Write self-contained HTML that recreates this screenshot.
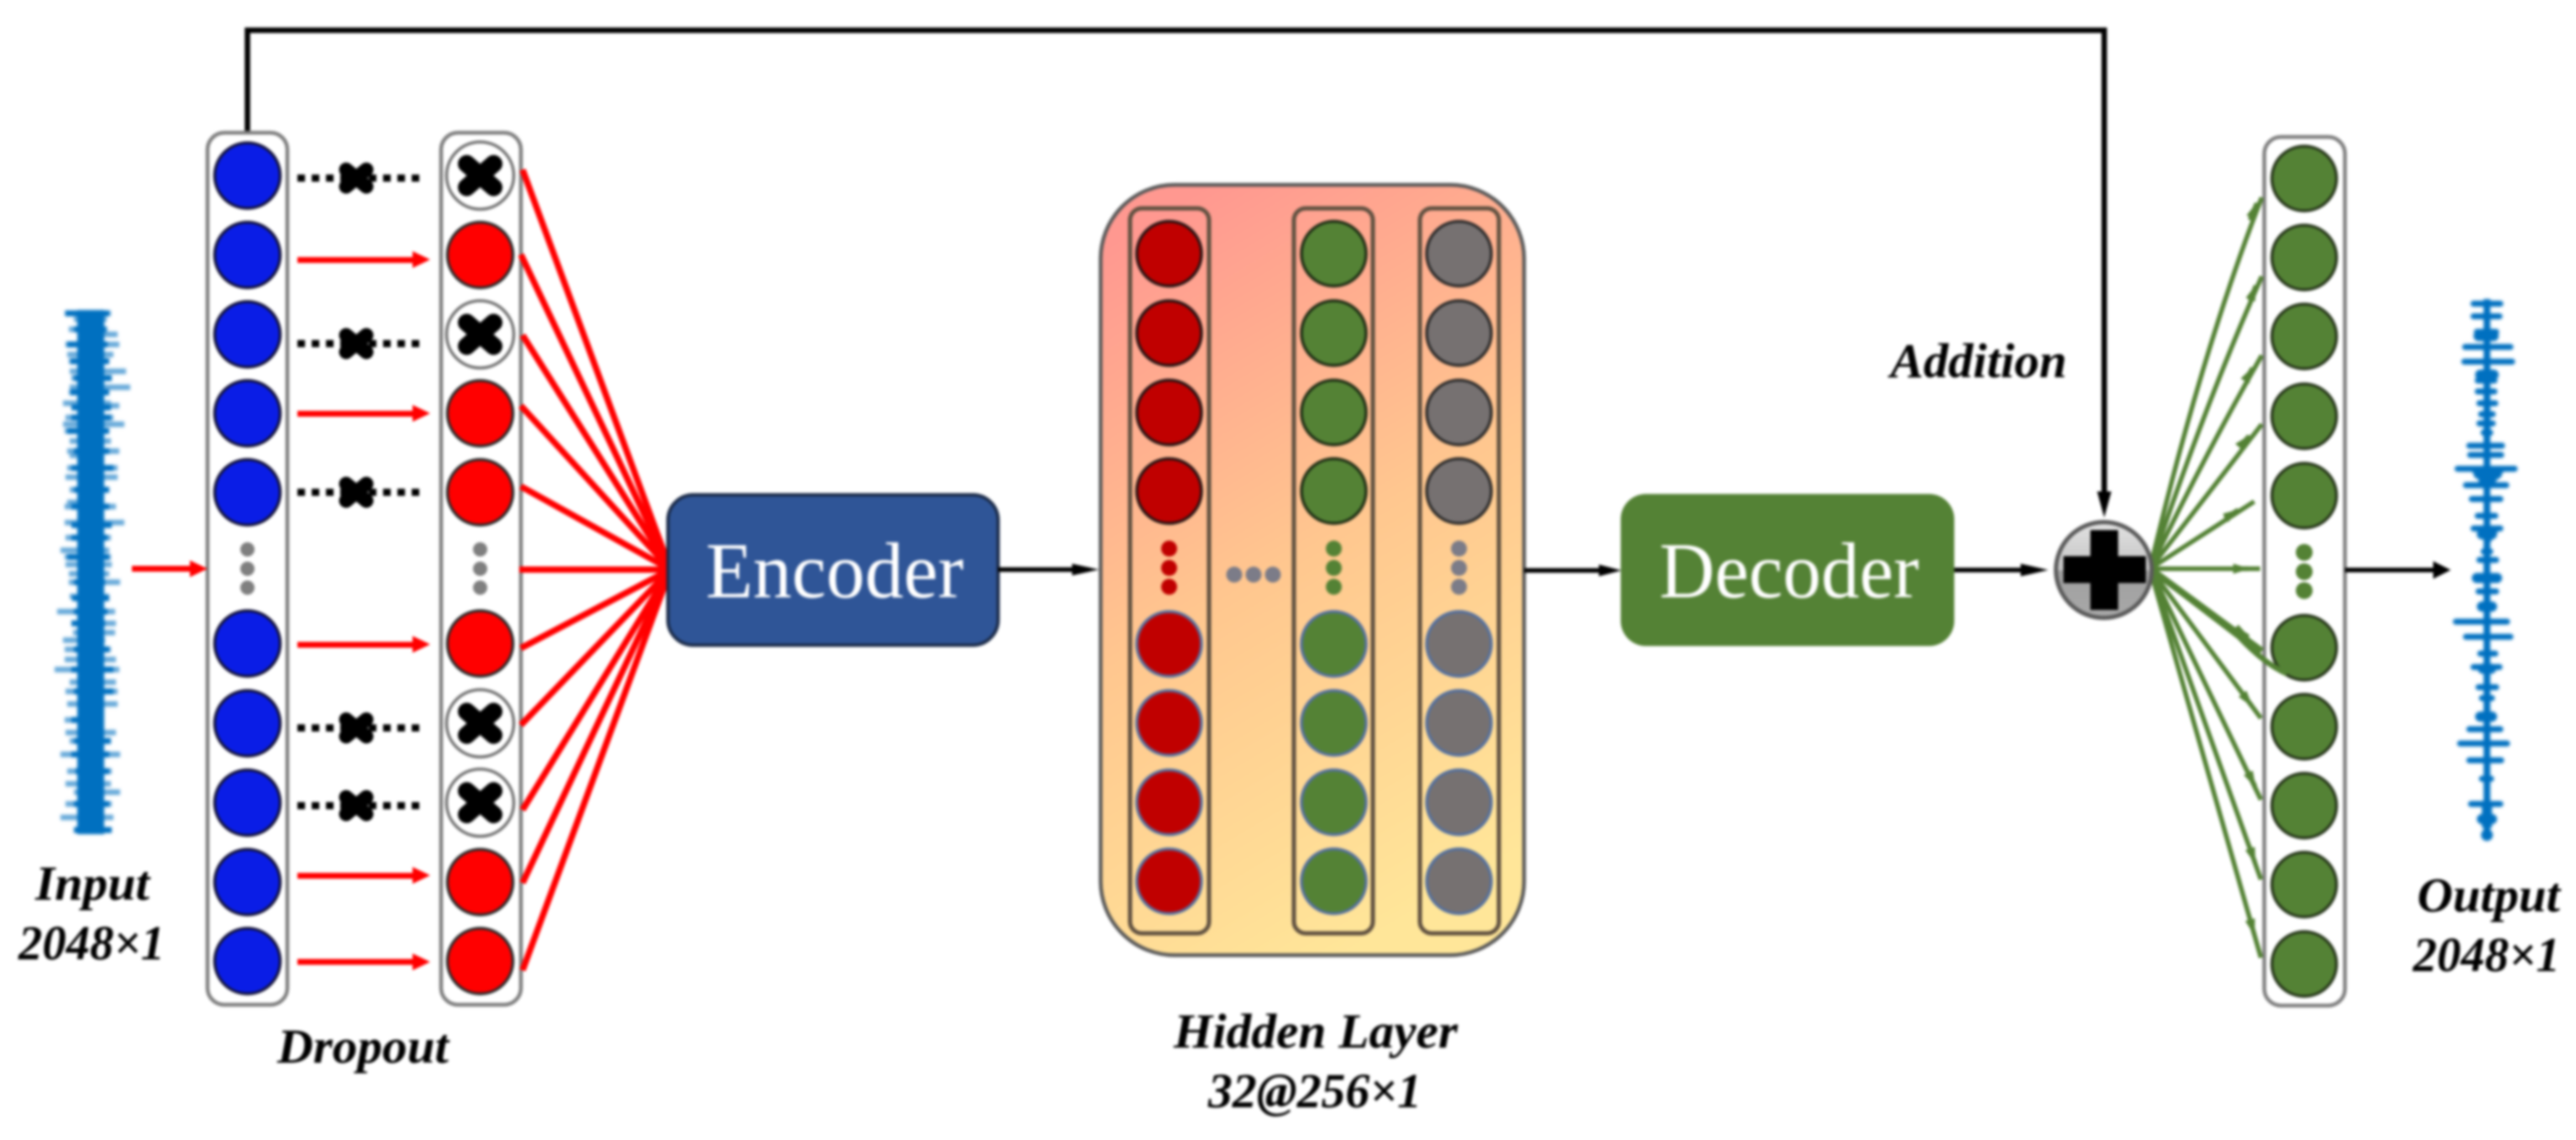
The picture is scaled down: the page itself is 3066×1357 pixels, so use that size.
<!DOCTYPE html>
<html><head><meta charset="utf-8"><title>Denoising autoencoder diagram</title>
<style>
html,body{margin:0;padding:0;background:#fff;width:3066px;height:1357px;overflow:hidden}
svg{display:block;filter:blur(1.6px)}
text{font-family:"Liberation Serif",serif;font-weight:bold;font-style:italic;fill:#000;font-size:58px}
.wv{filter:blur(1.4px)}
</style></head><body>
<svg width="3066" height="1357" viewBox="0 0 3066 1357" xmlns="http://www.w3.org/2000/svg">
<defs>
<linearGradient id="hg" x1="0.25" y1="0" x2="0.58" y2="1"><stop offset="0" stop-color="#ff9890"/><stop offset="0.5" stop-color="#ffc78f"/><stop offset="1" stop-color="#ffe699"/></linearGradient>
<linearGradient id="pg" x1="0" y1="0" x2="0" y2="1"><stop offset="0" stop-color="#e2e2e2"/><stop offset="0.5" stop-color="#c4c4c4"/><stop offset="0.51" stop-color="#a0a0a0"/><stop offset="1" stop-color="#a8a8a8"/></linearGradient>
<marker id="gh" markerUnits="userSpaceOnUse" markerWidth="20" markerHeight="14" refX="18" refY="7" orient="auto"><path d="M0 1L20 7L0 13Z" fill="#548235"/></marker>
<g id="b"><circle r="39" fill="#0a1de6" stroke="#14143c" stroke-width="3.5"/></g>
<g id="r"><circle r="39" fill="#ff0000" stroke="#2c2c2c" stroke-width="3.5"/></g>
<g id="x"><circle r="40" fill="#fff" stroke="#6f6f6f" stroke-width="3.5"/><path d="M-16-14L16 14M16-14L-16 14" stroke="#000" stroke-width="21" stroke-linecap="round"/></g>
<g id="sx"><path d="M-12-10L12 10M12-10L-12 10" stroke="#000" stroke-width="17" stroke-linecap="round"/></g>
<g id="g"><circle r="38.5" fill="#548235" stroke="#26361a" stroke-width="3.5"/></g>
</defs>

<!-- skip connection -->
<path d="M294.5 158V36H2504.5V590" fill="none" stroke="#000" stroke-width="6.5"/>
<path d="M2496 585H2513L2504.5 616Z" fill="#000"/>

<!-- input waveform -->
<g class="wv">
<rect x="92" y="369" width="32" height="624" fill="#0070c0"/>
<path fill="none" stroke="#0070c0" stroke-width="6.5" opacity=".6" d="M77 373H132M88 380H127M82 392H128M118 398H140M78 410H142M80 422H135M82 430H127M83 442H150M85 450H133M83 461H155M82 467H127M75 480H132M118 483H142M78 497H135M75 505H148M77 513H128M83 525H132M80 537H142M83 542H123M80 557H140M78 568H140M83 583H130M80 598H123M77 603H138M77 622H148M78 640H132M72 655H130M77 663H132M78 672H133M82 683H130M82 693H143M83 710H130M68 728H137M85 742H138M87 753H137M75 762H125M77 773H132M77 785H138M65 797H142M83 812H138M78 823H140M80 838H140M77 857H123M78 872H138M83 882H132M72 898H143M80 918H133M78 933H132M88 943H143M78 957H133M72 973H135M88 988H133"/>
<path fill="none" stroke="#0070c0" stroke-width="7" d="M78 373H130M88 392H126M80 410H128M84 430H130M88 450H133M84 467H130M85 485H132M85 497H132M80 513H130M88 537H130M85 557H135M88 583H130M85 603H130M85 625H133M85 640H128M80 663H130M88 693H125M86 712H130M88 728H128M85 742H125M88 773H130M85 797H135M88 823H135M85 857H123M88 882H132M85 898H130M90 918H130M88 957H130M88 988H133"/>
</g>

<!-- input columns -->
<rect x="247" y="158" width="95" height="1038" rx="20" fill="#fff" stroke="#7f7f7f" stroke-width="4.5"/>
<rect x="525" y="158" width="95" height="1038" rx="20" fill="#fff" stroke="#7f7f7f" stroke-width="4.5"/>

<!-- input arrow -->
<path d="M157 677H232" stroke="#ff0000" stroke-width="7"/><path d="M226 667L247 677L226 687Z" fill="#ff0000"/>

<!-- col 1 -->
<use href="#b" x="294.5" y="209"/><use href="#b" x="294.5" y="303.5"/><use href="#b" x="294.5" y="398"/><use href="#b" x="294.5" y="492"/><use href="#b" x="294.5" y="586"/>
<use href="#b" x="294.5" y="766"/><use href="#b" x="294.5" y="861"/><use href="#b" x="294.5" y="955.5"/><use href="#b" x="294.5" y="1050"/><use href="#b" x="294.5" y="1144"/>
<g fill="#7f7f7f"><circle cx="294.5" cy="654" r="8.5"/><circle cx="294.5" cy="677" r="8.5"/><circle cx="294.5" cy="699.5" r="8.5"/>
<circle cx="571.5" cy="654" r="8.5"/><circle cx="571.5" cy="677" r="8.5"/><circle cx="571.5" cy="699.5" r="8.5"/></g>

<!-- col 2 -->
<use href="#x" x="571.5" y="209"/><use href="#r" x="571.5" y="303.5"/><use href="#x" x="571.5" y="398"/><use href="#r" x="571.5" y="492"/><use href="#r" x="571.5" y="586"/>
<use href="#r" x="571.5" y="766"/><use href="#x" x="571.5" y="861"/><use href="#x" x="571.5" y="955.5"/><use href="#r" x="571.5" y="1050"/><use href="#r" x="571.5" y="1144"/>

<!-- dropped connections -->
<g stroke="#000" stroke-width="8.5" stroke-dasharray="9 8" fill="none">
<path d="M354 212H505"/><path d="M354 409H505"/><path d="M354 586H505"/><path d="M354 866.5H505"/><path d="M354 959H505"/></g>
<use href="#sx" x="424" y="212"/><use href="#sx" x="424" y="409"/><use href="#sx" x="424" y="586"/><use href="#sx" x="424" y="866.5"/><use href="#sx" x="424" y="959"/>

<!-- kept connections -->
<g stroke="#ff0000" stroke-width="7"><path d="M354 309.5H498"/><path d="M354 492.5H498"/><path d="M354 767.5H498"/><path d="M354 1042.5H498"/><path d="M354 1145H498"/></g>
<g fill="#ff0000"><path d="M491 299L512 309L491 319Z"/><path d="M491 482L512 492L491 502Z"/><path d="M491 757L512 767L491 777Z"/><path d="M491 1032L512 1042L491 1052Z"/><path d="M491 1135L512 1145L491 1155Z"/></g>

<!-- red fan -->
<g stroke="#ff0000" stroke-width="7.5" fill="none">
<path d="M622 202L798 678"/><path d="M620 303L798 678"/><path d="M622 399L798 678"/><path d="M620 483L798 678"/><path d="M620 579L798 678"/><path d="M618 678H798"/><path d="M620 771.5L798 678"/><path d="M620 863L798 678"/><path d="M622 964L798 678"/><path d="M622 1051L798 678"/><path d="M622 1155L798 678"/></g>

<!-- encoder -->
<rect x="795" y="589" width="393" height="179" rx="30" fill="#2f5597" stroke="#1c2c4a" stroke-width="4"/>
<text x="840" y="711" style="font-size:94px;font-weight:normal;font-style:normal;fill:#fff" textLength="307" lengthAdjust="spacingAndGlyphs">Encoder</text>
<path d="M1188 678H1296" stroke="#000" stroke-width="5.5"/><path d="M1276 671L1308 678L1276 685Z" fill="#000"/>

<!-- hidden layer -->
<rect x="1310" y="220" width="504" height="917" rx="88" fill="url(#hg)" stroke="#5a5a5a" stroke-width="4.5"/>
<g fill="none" stroke="#5f5040" stroke-width="5">
<rect x="1345" y="248" width="94" height="863" rx="14"/><rect x="1540" y="248" width="94" height="863" rx="14"/><rect x="1690" y="248" width="94" height="863" rx="14"/></g>
<g stroke="#241414" stroke-width="3.5" fill="#c00000"><circle cx="1391.5" cy="302" r="38.5"/><circle cx="1391.5" cy="396.5" r="38.5"/><circle cx="1391.5" cy="491" r="38.5"/><circle cx="1391.5" cy="584.5" r="38.5"/></g>
<g stroke="#1c2c14" stroke-width="3.5" fill="#548235"><circle cx="1587.5" cy="302" r="38.5"/><circle cx="1587.5" cy="396.5" r="38.5"/><circle cx="1587.5" cy="491" r="38.5"/><circle cx="1587.5" cy="584.5" r="38.5"/></g>
<g stroke="#2a2a2a" stroke-width="3.5" fill="#767171"><circle cx="1736.5" cy="302" r="38.5"/><circle cx="1736.5" cy="396.5" r="38.5"/><circle cx="1736.5" cy="491" r="38.5"/><circle cx="1736.5" cy="584.5" r="38.5"/></g>
<g stroke="#54709f" stroke-width="3.5" fill="#c00000"><circle cx="1391.5" cy="766.5" r="38.5"/><circle cx="1391.5" cy="860.5" r="38.5"/><circle cx="1391.5" cy="955" r="38.5"/><circle cx="1391.5" cy="1049" r="38.5"/></g>
<g stroke="#54709f" stroke-width="3.5" fill="#548235"><circle cx="1587.5" cy="766.5" r="38.5"/><circle cx="1587.5" cy="860.5" r="38.5"/><circle cx="1587.5" cy="955" r="38.5"/><circle cx="1587.5" cy="1049" r="38.5"/></g>
<g stroke="#54709f" stroke-width="3.5" fill="#767171"><circle cx="1736.5" cy="766.5" r="38.5"/><circle cx="1736.5" cy="860.5" r="38.5"/><circle cx="1736.5" cy="955" r="38.5"/><circle cx="1736.5" cy="1049" r="38.5"/></g>
<g fill="#c00000"><circle cx="1391.5" cy="653" r="9.5"/><circle cx="1391.5" cy="676" r="9.5"/><circle cx="1391.5" cy="698.5" r="9.5"/></g>
<g fill="#548235"><circle cx="1587.5" cy="653" r="9.5"/><circle cx="1587.5" cy="676" r="9.5"/><circle cx="1587.5" cy="698.5" r="9.5"/></g>
<g fill="#7c7c88"><circle cx="1736.5" cy="653" r="9.5"/><circle cx="1736.5" cy="676" r="9.5"/><circle cx="1736.5" cy="698.5" r="9.5"/>
<circle cx="1469" cy="684" r="9.5"/><circle cx="1492" cy="684" r="9.5"/><circle cx="1515" cy="684" r="9.5"/></g>
<path d="M1814 679H1915" stroke="#000" stroke-width="5.5"/><path d="M1903 672L1930 679L1903 686Z" fill="#000"/>

<!-- decoder -->
<rect x="1929" y="588" width="397" height="181" rx="30" fill="#548235"/>
<text x="1975" y="711" style="font-size:94px;font-weight:normal;font-style:normal;fill:#fff" textLength="309" lengthAdjust="spacingAndGlyphs">Decoder</text>
<path d="M2326 678.5H2425" stroke="#000" stroke-width="5.5"/><path d="M2405 671L2438 678.5L2405 686Z" fill="#000"/>

<!-- output column -->
<rect x="2695" y="163" width="96" height="1034" rx="20" fill="#fff" stroke="#7f7f7f" stroke-width="4.5"/>
<use href="#g" x="2742.5" y="212.5"/><use href="#g" x="2742.5" y="306.5"/><use href="#g" x="2742.5" y="400.5"/><use href="#g" x="2742.5" y="495.5"/><use href="#g" x="2742.5" y="590"/>
<use href="#g" x="2742.5" y="771"/><use href="#g" x="2742.5" y="865"/><use href="#g" x="2742.5" y="959"/><use href="#g" x="2742.5" y="1053"/><use href="#g" x="2742.5" y="1147.5"/>
<g fill="#548235"><circle cx="2742.5" cy="657.5" r="10"/><circle cx="2742.5" cy="680.5" r="10"/><circle cx="2742.5" cy="703" r="10"/></g>

<!-- green fan -->
<g stroke="#548235" stroke-width="5.5" fill="none">
<path d="M2559 677Q2620 420 2692 235"/><path d="M2559 677Q2625 480 2692 329"/><path d="M2559 677Q2625 540 2692 423"/><path d="M2559 677L2692 505"/><path d="M2559 677L2683 597"/><path d="M2559 677H2690"/>
<path d="M2559 677L2692 775" stroke-width="8"/><path d="M2559 677L2665 758Q2695 790 2722 802" stroke-width="6.5"/>
<path d="M2559 677L2691 855"/><path d="M2559 677L2691 952"/><path d="M2559 677L2691 1047"/><path d="M2559 677L2691 1140"/>
<path d="M2678 262L2686 242" marker-end="url(#gh)"/><path d="M2678 358L2685 340" marker-end="url(#gh)"/><path d="M2673 452L2681 438" marker-end="url(#gh)"/><path d="M2667 530L2677 519" marker-end="url(#gh)"/><path d="M2648 617L2664 607" marker-end="url(#gh)"/><path d="M2660 677H2676" marker-end="url(#gh)"/><path d="M2660 748L2676 758" marker-end="url(#gh)"/><path d="M2670 827L2680 840" marker-end="url(#gh)"/><path d="M2675 918L2684 936" marker-end="url(#gh)"/><path d="M2677 1007L2684 1027" marker-end="url(#gh)"/><path d="M2677 1091L2683 1112" marker-end="url(#gh)"/>
</g>

<!-- addition node -->
<circle cx="2504" cy="678.5" r="57" fill="url(#pg)" stroke="#5a5a5a" stroke-width="5"/>
<path d="M2488 631H2521V662H2554V694H2521V726H2488V694H2456V662H2488Z" fill="#000"/>
<path d="M2791 678.5H2903" stroke="#000" stroke-width="5.5"/><path d="M2896 668L2917 678.5L2896 689Z" fill="#000"/>

<!-- output waveform -->
<g class="wv">
<rect x="2956" y="356" width="8" height="636" fill="#0070c0"/>
<g fill="none" stroke="#0070c0" stroke-width="7" stroke-linecap="round">
<path d="M2944 361.5H2976M2944 376.5H2975M2948 395H2971M2934 413H2988M2933 430.5H2990M2949 453H2969M2949 466H2969M2951 480H2970M2953 493H2967M2951 504H2967M2956 515H2964M2939 530.5H2978M2940 541.5H2977M2925 558H2993M2935 577.5H2983M2942 594H2976M2949 614H2970M2944 629H2976M2956 656.5H2964M2951 666.5H2971M2947 688H2973M2950 704H2971M2952 721.5H2967M2923 740H2984M2935 758H2988M2952 778H2970M2944 794H2975M2950 818H2971M2954 831H2966M2957 853H2963M2939 868H2976M2928 885H2984M2939 905H2977M2954 927H2965M2941 957H2976"/>
<path stroke-width="12" d="M2952 446H2968M2950 400H2968M2950 564H2972M2956 574H2964M2948 688H2972M2954 722H2966M2952 853H2966M2955 796H2965M2954 636H2966M2954 975H2966"/>
</g>
<path d="M2952 392H2970L2961 410ZM2941 560H2981L2961 585ZM2947 630H2975L2961 650ZM2954 958H2966V985H2954Z" fill="#0070c0"/>
<circle cx="2960" cy="994" r="7" fill="#0070c0"/>
</g>

<!-- labels -->
<text x="42" y="1071" textLength="136" lengthAdjust="spacingAndGlyphs">Input</text>
<text x="22" y="1142" textLength="174" lengthAdjust="spacingAndGlyphs">2048×1</text>
<text x="330" y="1265" textLength="204" lengthAdjust="spacingAndGlyphs">Dropout</text>
<text x="1397" y="1247" textLength="338" lengthAdjust="spacingAndGlyphs">Hidden Layer</text>
<text x="1438" y="1318" textLength="254" lengthAdjust="spacingAndGlyphs">32@256×1</text>
<text x="2250" y="449" textLength="210" lengthAdjust="spacingAndGlyphs">Addition</text>
<text x="2877" y="1085" textLength="170" lengthAdjust="spacingAndGlyphs">Output</text>
<text x="2872" y="1156" textLength="175" lengthAdjust="spacingAndGlyphs">2048×1</text>
</svg>
</body></html>
